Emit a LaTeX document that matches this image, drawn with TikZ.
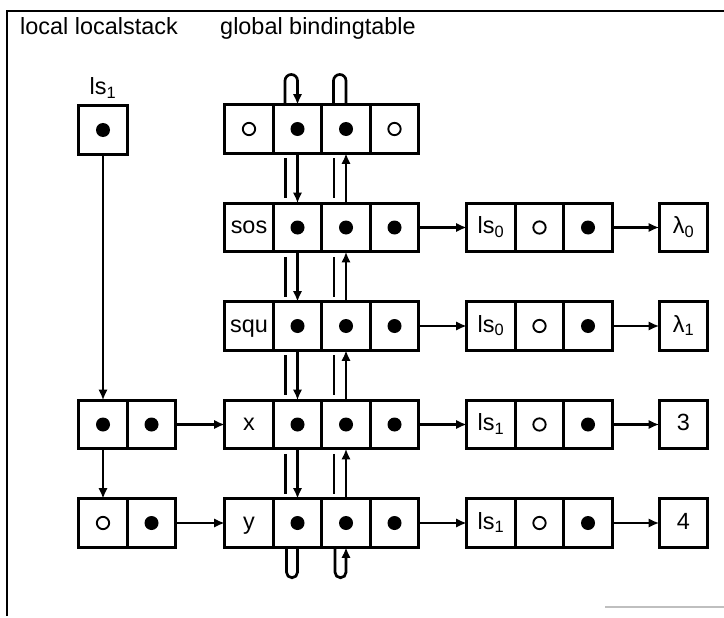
\documentclass[tikz,border=0pt]{standalone}
\usepackage{fontspec}
\setmainfont{Liberation Sans}
\usetikzlibrary{positioning,arrows.meta}
\begin{document}
\begin{tikzpicture}[x=0.03cm, y=0.03cm, font=\fontsize{20}{24}\selectfont,
	cell/.style={draw, line width=2.6pt, minimum size=1.455cm, inner sep=0pt, outer sep=0pt, text height=14.4pt, text depth=4pt},
	full/.style={cell, path picture={\fill (path picture bounding box.center) circle (0.21cm);}},
	hollow/.style={cell, path picture={\draw[line width=1.6pt] (path picture bounding box.center) circle (0.185cm);}},
	link/.style={line width=2.3pt},
	>={Latex[length=0.32cm, width=0.28cm]}]
			\useasboundingbox (0,0) rectangle (724,-618);
			\draw[line width=2.4pt] (7,-616) -- (7,-11) -- (724,-11);
			\draw[gray!50, line width=1.2pt] (605,-607) -- (724,-607);
			\node[anchor=base west, inner sep=0pt] (loclabel) at (20,-35) {local localstack};
			\node[anchor=base west, inner sep=0pt] (globlabel) at (220,-35) {global bindingtable};
			% local localstack
			\node (lslabel) at (103,-88) {ls\textsubscript{1}};
			\node[full] (lsbox) at (103,-130) {};
			\node[full] (lx-a) at (103,-424.5) {};
			\node[full, right=0pt of lx-a] (lx-b) {};
			\node[hollow] (ly-a) at (103,-523) {};
			\node[full, right=0pt of ly-a] (ly-b) {};
			% global bindingtable
			\node[hollow] (top-name) at (249,-129) {};
			\node[full, right=0pt of top-name] (top-dn) {};
			\node[full, right=0pt of top-dn] (top-up) {};
			\node[hollow, right=0pt of top-up] (top-val) {};
			\node[cell] (sos-name) at (249,-227.5) {sos};
			\node[full, right=0pt of sos-name] (sos-dn) {};
			\node[full, right=0pt of sos-dn] (sos-up) {};
			\node[full, right=0pt of sos-up] (sos-val) {};
			\node[cell] (squ-name) at (249,-326) {squ};
			\node[full, right=0pt of squ-name] (squ-dn) {};
			\node[full, right=0pt of squ-dn] (squ-up) {};
			\node[full, right=0pt of squ-up] (squ-val) {};
			\node[cell] (x-name) at (249,-424.5) {x};
			\node[full, right=0pt of x-name] (x-dn) {};
			\node[full, right=0pt of x-dn] (x-up) {};
			\node[full, right=0pt of x-up] (x-val) {};
			\node[cell] (y-name) at (249,-523) {y};
			\node[full, right=0pt of y-name] (y-dn) {};
			\node[full, right=0pt of y-dn] (y-up) {};
			\node[full, right=0pt of y-up] (y-val) {};
			% values
			\node[cell] (sos-ls) at (491,-227.5) {ls\textsubscript{0}};
			\node[hollow, right=0pt of sos-ls] (sos-o) {};
			\node[full, right=0pt of sos-o] (sos-p) {};
			\node[cell] (sos-obj) at (683.5,-227.5) {λ\textsubscript{0}};
			\node[cell] (squ-ls) at (491,-326) {ls\textsubscript{0}};
			\node[hollow, right=0pt of squ-ls] (squ-o) {};
			\node[full, right=0pt of squ-o] (squ-p) {};
			\node[cell] (squ-obj) at (683.5,-326) {λ\textsubscript{1}};
			\node[cell] (x-ls) at (491,-424.5) {ls\textsubscript{1}};
			\node[hollow, right=0pt of x-ls] (x-o) {};
			\node[full, right=0pt of x-o] (x-p) {};
			\node[cell] (x-obj) at (683.5,-424.5) {3};
			\node[cell] (y-ls) at (491,-523) {ls\textsubscript{1}};
			\node[hollow, right=0pt of y-ls] (y-o) {};
			\node[full, right=0pt of y-o] (y-p) {};
			\node[cell] (y-obj) at (683.5,-523) {4};
			% pointers
			\draw[link,->] (lsbox) -- (lx-a);
			\draw[link,->] (lx-a) -- (ly-a);
			\draw[link,->] (lx-b) -- (x-name);
			\draw[link,->] (ly-b) -- (y-name);
			\draw[link,->] (sos-val) -- (sos-ls);
			\draw[link,->] (sos-p) -- (sos-obj);
			\draw[link,->] (squ-val) -- (squ-ls);
			\draw[link,->] (squ-p) -- (squ-obj);
			\draw[link,->] (x-val) -- (x-ls);
			\draw[link,->] (x-p) -- (x-obj);
			\draw[link,->] (y-val) -- (y-ls);
			\draw[link,->] (y-p) -- (y-obj);
			% chains through the table
			\draw[link,->] (top-dn) -- (sos-dn);
			\draw[link,->] (sos-dn) -- (squ-dn);
			\draw[link,->] (squ-dn) -- (x-dn);
			\draw[link,->] (x-dn) -- (y-dn);
			\draw[link,->] (sos-up) -- (top-up);
			\draw[link,->] (squ-up) -- (sos-up);
			\draw[link,->] (x-up) -- (squ-up);
			\draw[link,->] (y-up) -- (x-up);
			\draw[link] ([shift={(-12,-5)}]top-dn.south) -- ([shift={(-12,5)}]sos-dn.north);
			\draw[link] ([shift={(-12,-5)}]sos-dn.south) -- ([shift={(-12,5)}]squ-dn.north);
			\draw[link] ([shift={(-12,-5)}]squ-dn.south) -- ([shift={(-12,5)}]x-dn.north);
			\draw[link] ([shift={(-12,-5)}]x-dn.south) -- ([shift={(-12,5)}]y-dn.north);
			\draw[link] ([shift={(-12,-5)}]top-up.south) -- ([shift={(-12,5)}]sos-up.north);
			\draw[link] ([shift={(-12,-5)}]sos-up.south) -- ([shift={(-12,5)}]squ-up.north);
			\draw[link] ([shift={(-12,-5)}]squ-up.south) -- ([shift={(-12,5)}]x-up.north);
			\draw[link] ([shift={(-12,-5)}]x-up.south) -- ([shift={(-12,5)}]y-up.north);
			% ends of the chains
			\draw[link,->] ([shift={(-12.5,0)}]top-dn.north) -- ++(0,24) arc[start angle=180, end angle=0, radius=6.25] -- (top-dn.north);
			\draw[link] ([shift={(-12.5,0)}]top-up.north) -- ++(0,24) arc[start angle=180, end angle=0, radius=6.25] -- (top-up.north);
			\draw[link] ([shift={(-11,0)}]y-dn.south) -- ++(0,-25) arc[start angle=180, end angle=360, radius=5.5] -- (y-dn.south);
			\draw[link,->] ([shift={(-11,0)}]y-up.south) -- ++(0,-25) arc[start angle=180, end angle=360, radius=5.5] -- (y-up.south);
		\end{tikzpicture}
\end{document}
